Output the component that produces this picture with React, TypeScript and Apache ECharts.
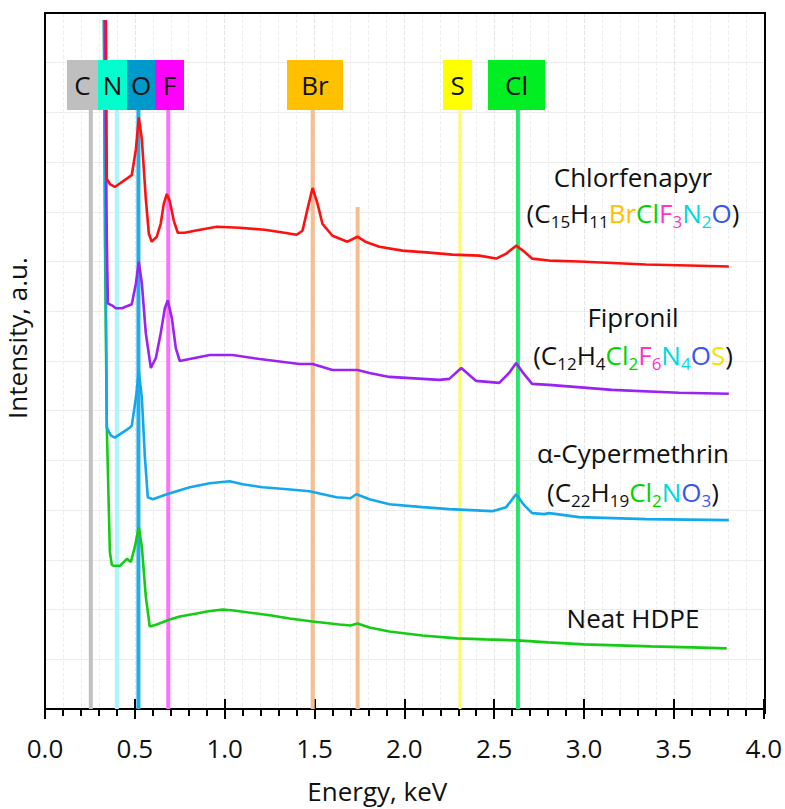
import React, { useEffect, useRef } from 'react';
import * as echarts from 'echarts';

const FONT = '"Open Sans", "Noto Sans", sans-serif';

// ---------- data ----------
const xTickLabels = ['0.0', '0.5', '1.0', '1.5', '2.0', '2.5', '3.0', '3.5', '4.0'];
const X_MIN = 0;
const X_MAX = 4;
const Y_MIN = 0;
const Y_MAX = 700;

const elementNames = ['C', 'N', 'O', 'F', 'Br', 'S', 'Cl'];
const elementEnergies = [0.255, 0.4, 0.52, 0.686, 1.49, 2.31, 2.632];
const brSecondaryEnergy = 1.74;

const seriesNames = ['Neat HDPE', 'α-Cypermethrin', 'Fipronil', 'Chlorfenapyr'];

const neatHdpe: [number, number][] = [
  [0.328, 693], [0.333, 483], [0.344, 283], [0.361, 158], [0.372, 145], [0.383, 144],
  [0.417, 144], [0.456, 151], [0.478, 148], [0.5, 163], [0.522, 183], [0.539, 163],
  [0.561, 113], [0.583, 83], [0.622, 85], [0.694, 90], [0.75, 93], [0.844, 96],
  [0.9, 98], [0.989, 100], [1.05, 99], [1.178, 96], [1.261, 94], [1.361, 91],
  [1.489, 88], [1.639, 85], [1.7, 84], [1.739, 86], [1.806, 82], [1.917, 78],
  [2.1, 74], [2.294, 71], [2.45, 70], [2.628, 69], [2.8, 67], [2.999, 65],
  [3.372, 63], [3.6, 62], [3.794, 61],
];

const cypermethrin: [number, number][] = [
  [0.328, 693], [0.339, 413], [0.344, 283], [0.367, 275], [0.389, 273], [0.422, 277],
  [0.456, 281], [0.472, 283], [0.483, 285], [0.506, 313], [0.522, 340], [0.539, 313],
  [0.556, 253], [0.572, 213], [0.6, 211], [0.678, 216], [0.806, 223], [0.917, 227],
  [1.028, 229], [1.1, 226], [1.211, 223], [1.35, 221], [1.472, 219], [1.622, 213],
  [1.7, 212], [1.733, 216], [1.806, 211], [1.917, 206], [2.1, 203], [2.25, 201],
  [2.489, 199], [2.567, 203], [2.622, 216], [2.667, 205], [2.711, 197], [2.778, 196],
  [2.806, 197], [2.972, 193], [3.344, 191], [3.806, 190],
];

const fipronil: [number, number][] = [
  [0.333, 693], [0.344, 473], [0.35, 408], [0.372, 406], [0.394, 403], [0.428, 403],
  [0.483, 407], [0.506, 428], [0.522, 450], [0.539, 428], [0.561, 378], [0.589, 343],
  [0.617, 353], [0.644, 378], [0.667, 403], [0.683, 411], [0.706, 393], [0.728, 363],
  [0.75, 350], [0.833, 353], [0.917, 356], [1.044, 356], [1.194, 352], [1.417, 347],
  [1.489, 347], [1.6, 341], [1.739, 341], [1.806, 338], [1.917, 334], [2.194, 331],
  [2.25, 332], [2.317, 343], [2.361, 336], [2.4, 330], [2.528, 328], [2.583, 338],
  [2.622, 348], [2.661, 338], [2.711, 327], [2.806, 326], [3.156, 321], [3.528, 318],
  [3.806, 317],
];

const chlorfenapyr: [number, number][] = [
  [0.339, 693], [0.344, 533], [0.361, 528], [0.389, 525], [0.428, 530], [0.483, 537],
  [0.506, 563], [0.522, 595], [0.539, 573], [0.561, 513], [0.578, 478], [0.594, 470],
  [0.622, 475], [0.644, 488], [0.661, 508], [0.678, 518], [0.694, 511], [0.717, 491],
  [0.739, 479], [0.778, 479], [0.833, 481], [0.956, 485], [1.083, 484], [1.222, 482],
  [1.333, 479], [1.4, 477], [1.433, 481], [1.461, 503], [1.489, 524], [1.517, 508],
  [1.544, 488], [1.6, 476], [1.683, 470], [1.739, 475], [1.783, 470], [1.861, 465],
  [1.989, 461], [2.139, 459], [2.267, 457], [2.417, 456], [2.511, 453], [2.567, 458],
  [2.622, 466], [2.667, 460], [2.711, 453], [2.806, 451], [2.972, 450], [3.344, 447],
  [3.583, 446], [3.806, 445],
];

// formulas as [text, style] tokens
const chlorfenapyrFormula: [string, string][] = [
  ['(C', 'k'], ['15', 'ks'], ['H', 'k'], ['11', 'ks'], ['Br', 'br'], ['Cl', 'cl'],
  ['F', 'f'], ['3', 'fs'], ['N', 'n'], ['2', 'ns'], ['O', 'o'], [')', 'k'],
];
const fipronilFormula: [string, string][] = [
  ['(C', 'k'], ['12', 'ks'], ['H', 'k'], ['4', 'ks'], ['Cl', 'cl'], ['2', 'cls'],
  ['F', 'f'], ['6', 'fs'], ['N', 'n'], ['4', 'ns'], ['O', 'o'], ['S', 's'], [')', 'k'],
];
const cypermethrinFormula: [string, string][] = [
  ['(C', 'k'], ['22', 'ks'], ['H', 'k'], ['19', 'ks'], ['Cl', 'cl'], ['2', 'cls'],
  ['N', 'n'], ['O', 'o'], ['3', 'os'], [')', 'k'],
];

// ---------- styles / layout ----------
const W = 785;
const H = 809;
const GRID = { left: 45, right: 20, top: 13, bottom: 96 };
const FRAME_W = 2;
const curveColors = ['#14cc14', '#13a8ee', '#9a22f2', '#ff1010'];
const elementLineColors = ['#c0c0c0', '#a8f6ff', '#22ade8', '#ff70ff', '#f8bd8e', '#ffff5c', '#22ea66'];
const elementBoxColors = ['#bfbfbf', '#00ffcc', '#0099cc', '#ff00ff', '#ffc000', '#ffff00', '#00ee22'];
const elementBoxX: [number, number][] = [
  [67, 98], [98, 127], [127, 155], [155, 184], [287, 343], [443, 472], [488, 545],
];
const BOX_TOP = 60;
const BOX_BOTTOM = 110;
const LINE_TOP_VALUE = 603;
const BR2_TOP_VALUE = 505;
const LABEL_X = 633;

const FS = 26;
const SUB = 17;
const mainTok = (color: string) => ({ fill: color, fontSize: FS, fontFamily: FONT, lineHeight: 34 });
const subTok = (color: string) => ({ fill: color, fontSize: SUB, fontFamily: FONT, lineHeight: 19, verticalAlign: 'bottom' });
const richStyles: any = {
  k: mainTok('#111'), ks: subTok('#111'),
  br: mainTok('#ffc000'),
  cl: mainTok('#00d400'), cls: subTok('#00d400'),
  f: mainTok('#ff33cc'), fs: subTok('#ff33cc'),
  n: mainTok('#00d8e0'), ns: subTok('#00d8e0'),
  o: mainTok('#3a55f0'), os: subTok('#3a55f0'),
  s: mainTok('#f2e600'),
};
const richText = (tokens: [string, string][]) => tokens.map(([t, s]) => `{${s}|${t}}`).join('');

const plainText = (text: string, y: number) => ({
  type: 'text', x: LABEL_X, y, z: 10,
  style: { text, fill: '#111', fontSize: FS, fontFamily: FONT, align: 'center', verticalAlign: 'middle' },
});
const formulaText = (tokens: [string, string][], y: number) => ({
  type: 'text', x: LABEL_X, y, z: 10,
  style: { text: richText(tokens), rich: richStyles, fontSize: FS, fontFamily: FONT, align: 'center', verticalAlign: 'middle' },
});

function buildOption(): any {
  const curveData = [neatHdpe, cypermethrin, fipronil, chlorfenapyr];
  const elementSeries: any[] = elementEnergies.map((e, i) => ({
    type: 'line', name: elementNames[i] + ' line', silent: true, z: 1,
    symbol: 'none', data: [[e, LINE_TOP_VALUE], [e, 0]],
    lineStyle: { color: elementLineColors[i], width: i === 5 ? 3 : 4 },
  }));
  elementSeries.push({
    type: 'line', name: 'Br Lβ line', silent: true, z: 1,
    symbol: 'none', data: [[brSecondaryEnergy, BR2_TOP_VALUE], [brSecondaryEnergy, 0]],
    lineStyle: { color: elementLineColors[4], width: 4 },
  });
  const curveSeries = curveData.map((d, i) => ({
    type: 'line', name: seriesNames[i], z: 3 + i, symbol: 'none', data: d,
    lineStyle: { color: curveColors[i], width: 2.6 },
  }));

  const boxes: any[] = [];
  elementNames.forEach((n, i) => {
    const [x0, x1] = elementBoxX[i];
    boxes.push({
      type: 'rect', z: 20, shape: { x: x0, y: BOX_TOP, width: x1 - x0, height: BOX_BOTTOM - BOX_TOP },
      style: { fill: elementBoxColors[i] },
    });
    boxes.push({
      type: 'text', z: 21, x: (x0 + x1) / 2, y: (BOX_TOP + BOX_BOTTOM) / 2,
      style: { text: n, fill: '#111', fontSize: FS, fontFamily: FONT, align: 'center', verticalAlign: 'middle' },
    });
  });

  // frame top and right edges as thin filled rectangles
  const right = W - GRID.right;
  const bottom = H - GRID.bottom;
  const frame = [
    {
      type: 'rect', z: 40, silent: true,
      shape: { x: GRID.left - FRAME_W / 2, y: GRID.top - FRAME_W / 2, width: right - GRID.left + FRAME_W, height: FRAME_W },
      style: { fill: '#000000' },
    },
    {
      type: 'rect', z: 40, silent: true,
      shape: { x: right - FRAME_W / 2, y: GRID.top - FRAME_W / 2, width: FRAME_W, height: bottom - GRID.top + FRAME_W },
      style: { fill: '#000000' },
    },
  ];

  return {
    animation: false,
    backgroundColor: '#ffffff',
    grid: { ...GRID },
    xAxis: [
      {
        type: 'value', min: X_MIN, max: X_MAX, interval: 0.5, position: 'bottom',
        name: 'Energy, keV', nameLocation: 'middle', nameGap: 69,
        nameTextStyle: { fontSize: FS, fontFamily: FONT, color: '#111', padding: [0, 54, 0, 0] },
        axisLine: { show: true, onZero: false, lineStyle: { color: '#000', width: 2 } },
        axisTick: { show: true, inside: false, length: 10, lineStyle: { color: '#000', width: 2 } },
        minorTick: { show: true, splitNumber: 5, length: 7, lineStyle: { color: '#000', width: 2 } },
        axisLabel: {
          fontSize: FS, fontFamily: FONT, color: '#111', margin: 26,
          formatter: (v: number) => xTickLabels[Math.round(v / 0.5)] ?? '',
        },
        splitLine: { show: true, showMinLine: false, showMaxLine: false, lineStyle: { color: '#e4e4e4', type: 'dashed', width: 1 } },
        minorSplitLine: { show: true, lineStyle: { color: '#efefef', type: 'dashed', width: 1 } },
      },
      {
        type: 'value', min: X_MIN, max: X_MAX, interval: 0.5, position: 'bottom',
        axisLine: { show: false, onZero: false },
        axisTick: { show: true, inside: true, length: 10, lineStyle: { color: '#000', width: 2 } },
        axisLabel: { show: false },
        splitLine: { show: false },
      },
    ],
    yAxis: {
      type: 'value', min: Y_MIN, max: Y_MAX, interval: 50,
      axisLine: { show: true, onZero: false, lineStyle: { color: '#000', width: 2 } },
      axisTick: { show: false },
      axisLabel: { show: false },
      splitLine: { show: true, showMinLine: false, showMaxLine: false, lineStyle: { color: '#ececec', width: 1 } },
    },
    series: [...elementSeries, ...curveSeries],
    graphic: [
      ...frame,
      ...boxes,
      {
        type: 'text', x: 17, y: 338, rotation: Math.PI / 2, z: 10,
        style: { text: 'Intensity, a.u.', fill: '#111', fontSize: FS, fontFamily: FONT, align: 'center', verticalAlign: 'middle' },
      },
      plainText('Chlorfenapyr', 177),
      formulaText(chlorfenapyrFormula, 213),
      plainText('Fipronil', 317),
      formulaText(fipronilFormula, 355),
      plainText('α-Cypermethrin', 453),
      formulaText(cypermethrinFormula, 492),
      plainText('Neat HDPE', 618),
    ],
  };
}

export default function App() {
  const ref = useRef<HTMLDivElement>(null);
  useEffect(() => {
    document.body.style.margin = '0';
    const chart = echarts.init(ref.current!, null, { renderer: 'svg' });
    chart.setOption(buildOption());
    return () => chart.dispose();
  }, []);
  return <div ref={ref} style={{ width: W, height: H }} />;
}
